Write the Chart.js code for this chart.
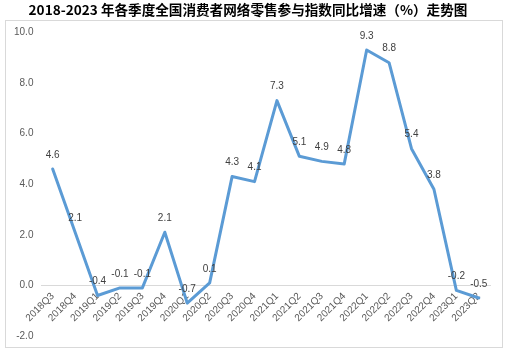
<!DOCTYPE html>
<html><head><meta charset="utf-8">
<script src="https://cdn.jsdelivr.net/npm/chart.js@4"></script>
<style>html,body{margin:0;padding:0;background:#fff}</style>
</head><body>
<canvas id="c" width="509" height="355" style="width:509px;height:355px;display:block"></canvas>
<script>
const titleText = '2018-2023 年各季度全国消费者网络零售参与指数同比增速（%）走势图';
const categories = ['2018Q3','2018Q4','2019Q1','2019Q2','2019Q3','2019Q4','2020Q1','2020Q2','2020Q3','2020Q4','2021Q1','2021Q2','2021Q3','2021Q4','2022Q1','2022Q2','2022Q3','2022Q4','2023Q1','2023Q2'];
const values = [4.6, 2.1, -0.4, -0.1, -0.1, 2.1, -0.7, 0.1, 4.3, 4.1, 7.3, 5.1, 4.9, 4.8, 9.3, 8.8, 5.4, 3.8, -0.2, -0.5];
const yMin = -2, yMax = 10, yStep = 2;

const frame = {
  id: 'frame',
  beforeDraw(chart) {
    const ctx = chart.ctx;
    ctx.save();
    ctx.fillStyle = '#fff';
    ctx.fillRect(0, 0, chart.width, chart.height);
    ctx.strokeStyle = '#d9d9d9';
    ctx.lineWidth = 1;
    ctx.strokeRect(5.5, 20.5, 497, 327);
    ctx.restore();
  }
};
const valueLabels = {
  id: 'valueLabels',
  afterDatasetsDraw(chart) {
    const ctx = chart.ctx;
    const meta = chart.getDatasetMeta(0);
    ctx.save();
    ctx.font = '10px "Liberation Sans", Arial, sans-serif';
    ctx.fillStyle = '#404040';
    ctx.textAlign = 'center';
    ctx.textBaseline = 'middle';
    meta.data.forEach((pt, i) => {
      ctx.fillText(values[i].toFixed(1), pt.x, pt.y - 14);
    });
    ctx.restore();
  }
};

new Chart(document.getElementById('c'), {
  type: 'line',
  data: {
    labels: categories,
    datasets: [{
      data: values,
      borderColor: '#5B9BD5',
      borderWidth: 3,
      pointRadius: 0,
      tension: 0,
      borderJoinStyle: 'round',
      borderCapStyle: 'round',
      fill: false
    }]
  },
  options: {
    responsive: false,
    animation: false,
    devicePixelRatio: 1,
    layout: { padding: { left: 6, right: 19, top: 0, bottom: 19 } },
    plugins: {
      legend: { display: false },
      tooltip: { enabled: false },
      title: {
        display: true,
        text: titleText,
        color: '#000',
        font: { family: '"Noto Sans CJK SC", sans-serif', size: 13.6, weight: 'bold' },
        padding: { top: 2, bottom: 14 }
      }
    },
    scales: {
      x: {
        type: 'category',
        position: { y: 0 },
        offset: true,
        grid: { display: false, drawTicks: false },
        border: { display: true, color: '#d9d9d9', width: 1 },
        afterFit: s => { s.paddingLeft = 0; s.paddingRight = 0; },
        ticks: {
          color: '#595959',
          font: { family: '"Liberation Sans", Arial, sans-serif', size: 10 },
          minRotation: 45, maxRotation: 45,
          autoSkip: false,
          padding: 5
        }
      },
      y: {
        min: yMin, max: yMax,
        grid: { display: false, drawTicks: false },
        border: { display: false },
        ticks: {
          stepSize: yStep,
          color: '#595959',
          font: { family: '"Liberation Sans", Arial, sans-serif', size: 10 },
          padding: 8,
          callback: v => Number(v).toFixed(1)
        }
      }
    }
  },
  plugins: [frame, valueLabels]
});
</script>
</body></html>
